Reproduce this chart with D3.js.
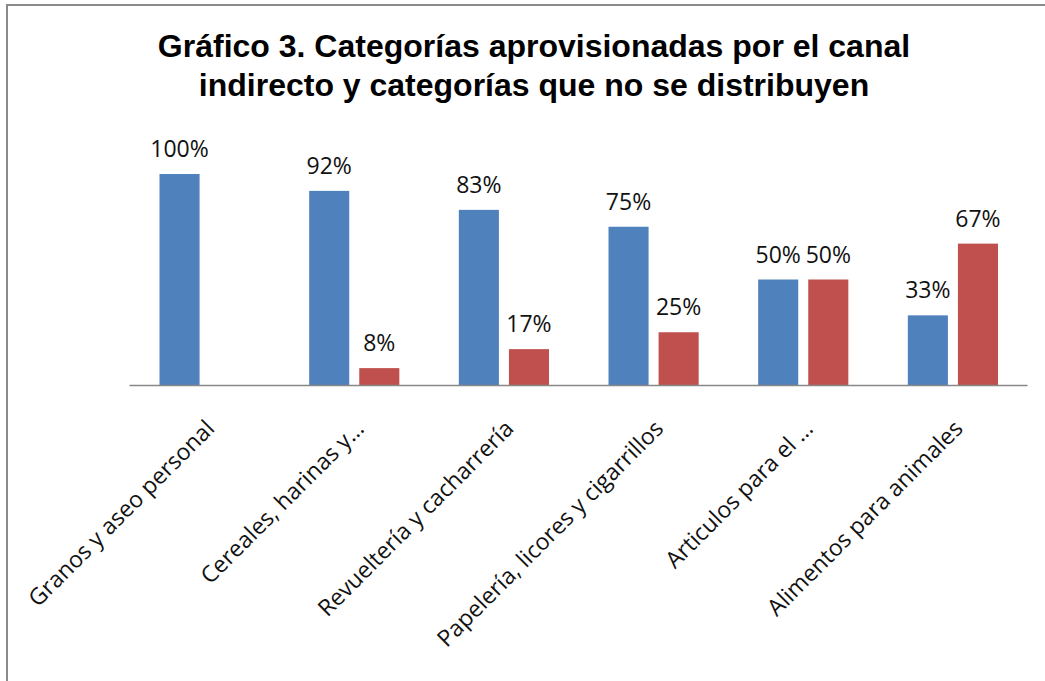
<!DOCTYPE html>
<html>
<head>
<meta charset="utf-8">
<script src="https://cdn.jsdelivr.net/npm/d3@7"></script>
<style>
  html, body { margin: 0; padding: 0; background: #fff; }
  svg { display: block; }
</style>
</head>
<body>
<svg id="chart" width="1045" height="681"></svg>
<script>
// Categories and the two series (share of stores per category)
const categories = [
  "Granos y aseo personal",
  "Cereales, harinas y…",
  "Revueltería y cacharrería",
  "Papelería, licores y cigarrillos",
  "Articulos para el …",
  "Alimentos para animales"
];
const seriesNames = ["Canal indirecto", "No se distribuye"];
const indirecto = [1.00, 0.92, 0.83, 0.75, 0.50, 0.33];
const noDistribuye = [null, 0.08, 0.17, 0.25, 0.50, 0.67];
const titleLines = [
  "Gráfico 3. Categorías aprovisionadas por el canal",
  "indirecto y categorías que no se distribuyen"
];

const colors = ["#4F81BD", "#C0504D"];
const seriesValues = [indirecto, noDistribuye];

const svg = d3.select("#chart");

// Chart frame
svg.append("rect")
  .attr("x", 7).attr("y", 5)
  .attr("width", 1100).attr("height", 700)
  .attr("fill", "none")
  .attr("stroke", "#8a8a8a")
  .attr("stroke-width", 2);

// Title
svg.append("text")
  .attr("x", 534)
  .attr("text-anchor", "middle")
  .attr("font-family", "'Liberation Sans', Arial, sans-serif")
  .attr("font-weight", "bold")
  .attr("font-size", 32)
  .attr("fill", "#000")
  .selectAll("tspan")
  .data(titleLines)
  .join("tspan")
  .attr("x", 534)
  .attr("y", (d, i) => 57 + i * 39)
  .text(d => d);

// Scales
const x0 = d3.scaleBand()
  .domain(categories)
  .range([129, 1027])
  .paddingInner(0)
  .paddingOuter(0);

const x1 = d3.scaleBand()
  .domain(seriesNames)
  .range([30.5, x0.bandwidth() - 29])
  .paddingInner(0.2)
  .paddingOuter(0);

const y = d3.scaleLinear()
  .domain([0, 1])
  .range([385, 174]);

// Flattened bar records
const bars = [];
categories.forEach((c, ci) => {
  seriesNames.forEach((s, si) => {
    const v = seriesValues[si][ci];
    if (v !== null) bars.push({ c, s, si, v });
  });
});

const g = svg.append("g");

g.selectAll("rect.bar")
  .data(bars)
  .join("rect")
  .attr("class", "bar")
  .attr("x", d => x0(d.c) + x1(d.s))
  .attr("y", d => y(d.v))
  .attr("width", x1.bandwidth())
  .attr("height", d => y(0) - y(d.v))
  .attr("fill", d => colors[d.si]);

// Data labels
g.selectAll("text.val")
  .data(bars)
  .join("text")
  .attr("class", "val")
  .attr("x", d => x0(d.c) + x1(d.s) + x1.bandwidth() / 2)
  .attr("y", d => y(d.v) - 17)
  .attr("text-anchor", "middle")
  .attr("font-family", "'Open Sans', sans-serif")
  .attr("font-size", 23)
  .attr("fill", "#111")
  .text(d => d3.format(".0%")(d.v));

// Category axis
const axis = svg.append("g")
  .attr("transform", `translate(0,${y(0)})`)
  .call(d3.axisBottom(x0).tickSize(0).tickPadding(0));

axis.select(".domain")
  .attr("stroke", "#888")
  .attr("stroke-width", 1.5);

axis.selectAll(".tick text")
  .attr("font-family", "'Open Sans', sans-serif")
  .attr("font-size", 23)
  .attr("fill", "#111")
  .attr("text-anchor", "end")
  .attr("dy", null)
  .attr("transform", "translate(12,45) rotate(-45)");
</script>
</body>
</html>
